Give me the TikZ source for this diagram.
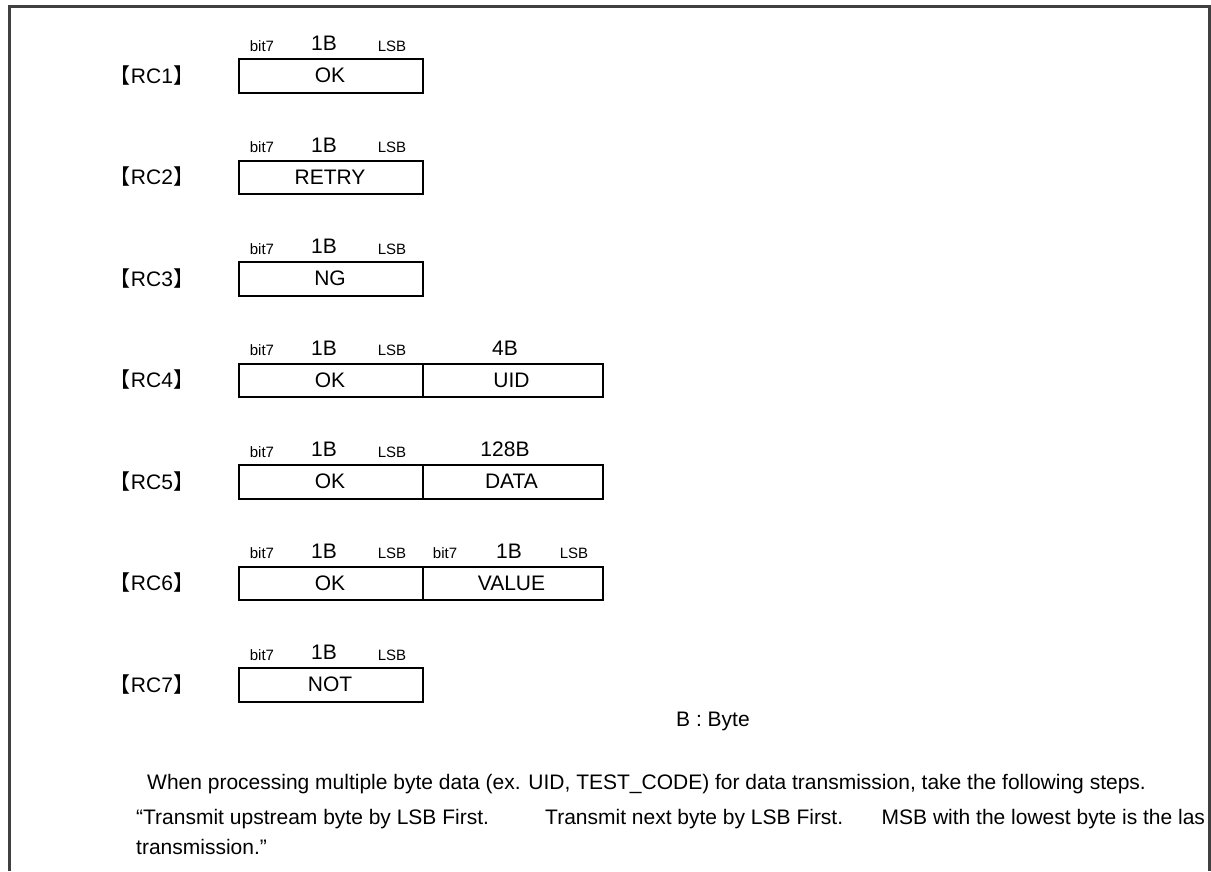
\documentclass[tikz,border=0pt]{standalone}
\usepackage{fontspec}
\setmainfont{Liberation Sans}
\newfontfamily\cjk{Noto Sans CJK JP}
\begin{document}
\begin{tikzpicture}[x=1pt,y=-1pt,
  frame/.style={draw=black!75, line width=3pt, line join=miter},
  field/.style={draw=black, line width=2.4pt, inner sep=0pt, anchor=north west, minimum height=33.5pt},
  big/.style={font=\fontsize{21}{25}\selectfont, inner sep=0pt, anchor=base},
  small/.style={font=\fontsize{15}{18}\selectfont, inner sep=0pt, anchor=base},
  rc/.style={font=\fontsize{21}{25}\selectfont, inner sep=0pt, anchor=base},
  note/.style={font=\fontsize{21}{25}\selectfont, inner sep=0pt, anchor=base west}]
\useasboundingbox (0,0) rectangle (1211,871);
\fill[white] (0,0) rectangle (1211,871);
\draw[frame] (9,871) -- (9,6) -- (1209,6) -- (1209,871);
% one-field rows
\foreach \i/\lab/\txt in {1/RC1/OK, 2/RC2/RETRY, 3/RC3/NG, 7/RC7/NOT} {
  \pgfmathsetmacro\T{58+(\i-1)*101.5}
  \node[rc] (lab\i) at (152,\T+25) {{\cjk 【}\lab{\cjk 】}};
  \node[field, minimum width=183.5pt] (a\i) at (238,\T) {};
  \node[big] (ta\i) at (330,\T+24.5) {\txt};
  \node[small] (bit\i) at (262,\T-7) {bit7};
  \node[big] (sz\i) at (324,\T-7.5) {1B};
  \node[small] (lsb\i) at (392,\T-7) {LSB};
}
% two-field rows
\foreach \i/\lab/\txt/\size in {4/RC4/UID/4B, 5/RC5/DATA/128B, 6/RC6/VALUE/} {
  \pgfmathsetmacro\T{58+(\i-1)*101.5}
  \node[rc] (lab\i) at (152,\T+25) {{\cjk 【}\lab{\cjk 】}};
  \node[field, minimum width=183.5pt] (a\i) at (238,\T) {};
  \node[field, minimum width=180.5pt] (b\i) at (421.5,\T) {};
  \node[big] (ta\i) at (330,\T+24.5) {OK};
  \node[big] (tb\i) at (511.5,\T+24.5) {\txt};
  \node[small] (bit\i) at (262,\T-7) {bit7};
  \node[big] (sz\i) at (324,\T-7.5) {1B};
  \node[small] (lsb\i) at (392,\T-7) {LSB};
  \ifx\size\empty
    \node[small] (bitb\i) at (445,\T-7) {bit7};
    \node[big] (szb\i) at (509,\T-7.5) {1B};
    \node[small] (lsbb\i) at (574,\T-7) {LSB};
  \else
    \node[big] (szb\i) at (505,\T-7.5) {\size};
  \fi
}
\node[note] (byte) at (676,726) {B : Byte};
\node[note] (n1) at (147,789) {When processing multiple byte data (ex. UID, TEST\_CODE) for data transmission, take the following steps.};
\node[note] (n2a) at (136,824) {“Transmit upstream byte by LSB First.};
\node[note] (n2b) at (545,824) {Transmit next byte by LSB First.};
\node[note] (n2c) at (881.5,824) {MSB with the lowest byte is the las};
\node[note] (n3) at (136,854) {transmission.”};
\end{tikzpicture}
\end{document}
